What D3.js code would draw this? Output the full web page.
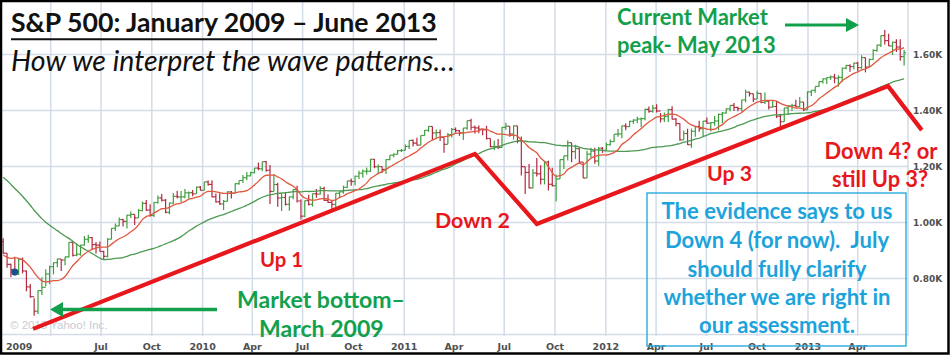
<!DOCTYPE html>
<html><head><meta charset="utf-8">
<script src="https://cdn.jsdelivr.net/npm/d3@7"></script>
<style>html,body{margin:0;padding:0;background:#fff;}svg{display:block;}</style>
</head><body>
<script>
// ---- DATA ----
// Weekly closes before the chart window (Apr 2008 – week ending Jan 2 2009), used for moving averages
const priorCloses = [1370.40,1332.83,1390.33,1397.84,1413.90,1388.28,1425.35,1375.93,1400.38,1360.68,1360.03,1317.93,1278.38,1262.90,1239.49,1260.68,1257.76,1260.31,1296.32,1298.20,1292.20,1282.83,1242.31,1251.70,1255.08,1213.27,1099.23,899.22,940.55,876.77,968.75,930.99,873.29,800.03,896.24,876.07,879.13,887.88,872.80,931.80];

// Weekly bars, weeks starting Mon Jan 5 2009 ... Mon Jun 24 2013
const weekClose = [
890.35,850.12,831.95,825.88,868.60,826.84,770.05,735.09,683.38,756.55,768.54,815.94,842.50,856.56,869.60,866.23,877.52,929.23,882.88,887.00,919.14,940.09,946.21,921.23,918.90,896.42,879.13,940.38,979.26,987.48,1010.48,1004.09,1026.13,1028.93,1016.40,1042.73,1068.30,1044.38,1025.21,1071.49,1087.68,1079.60,1036.19,1069.30,1093.48,1091.38,1091.49,1105.98,1106.41,1102.47,1126.48,1115.10,
1144.98,1136.03,1091.76,1073.87,1066.19,1075.51,1109.17,1104.49,1138.70,1149.99,1159.90,1166.59,1178.10,1194.37,1192.13,1217.28,1186.69,1110.88,1135.68,1087.69,1089.41,1064.88,1091.60,1117.51,1076.76,1022.58,1077.96,1064.88,1102.66,1101.60,1121.64,1079.25,1071.69,1064.59,1104.51,1109.55,1125.59,1148.67,1146.24,1165.15,1176.19,1183.08,1183.26,1225.85,1199.21,1199.73,1189.40,1224.71,1240.40,1243.91,1256.77,1257.64,
1271.50,1293.24,1283.35,1276.34,1310.87,1329.15,1343.01,1319.88,1321.15,1304.28,1279.20,1313.80,1332.41,1328.17,1319.68,1337.38,1363.61,1340.20,1337.77,1333.27,1331.10,1300.16,1270.98,1271.50,1268.45,1339.67,1343.80,1316.14,1345.02,1292.28,1199.38,1178.81,1123.53,1176.80,1173.97,1154.23,1216.01,1136.43,1131.42,1155.46,1224.58,1238.25,1285.09,1253.23,1263.85,1215.65,1158.67,1244.28,1255.19,1219.66,1265.33,1257.60,
1277.81,1289.09,1315.38,1316.33,1344.90,1342.64,1361.23,1365.74,1369.63,1370.87,1404.17,1397.11,1408.47,1398.08,1370.26,1378.53,1403.36,1369.10,1353.39,1295.22,1317.82,1278.04,1325.66,1342.84,1335.02,1362.16,1354.68,1356.78,1362.66,1385.97,1390.99,1405.87,1418.16,1411.13,1406.58,1437.92,1465.77,1460.15,1440.67,1460.93,1428.59,1433.19,1411.94,1414.20,1379.85,1359.88,1409.15,1416.18,1418.07,1413.58,1430.15,1402.43,1466.47,
1472.05,1485.98,1502.96,1513.17,1517.93,1519.79,1515.60,1518.20,1551.18,1560.70,1556.89,1569.19,1553.28,1588.85,1555.25,1582.24,1614.42,1633.70,1667.47,1649.60,1630.74,1643.38,1626.73,1592.43,1606.28];
const weekHigh = [
943.9,890.4,852.5,877.9,870.8,875.0,828.4,780.1,729.6,758.3,804.5,832.9,845.6,856.9,870.4,868.3,877.9,930.2,933.0,924.6,920.0,951.7,956.2,947.8,930.5,931.9,898.7,943.9,979.8,996.7,1018.0,1013.1,1027.6,1039.5,1028.5,1048.2,1074.8,1080.2,1065.4,1073.9,1096.6,1101.4,1083.9,1071.3,1105.4,1113.7,1112.4,1119.7,1110.7,1116.2,1128.0,1130.4,
1145.4,1150.4,1150.5,1103.7,1104.7,1080.0,1112.4,1112.4,1139.0,1150.0,1169.2,1180.7,1181.4,1194.7,1213.9,1217.3,1219.8,1205.1,1173.6,1141.9,1104.4,1105.7,1092.6,1119.0,1131.2,1082.6,1078.3,1099.1,1103.7,1120.0,1129.2,1127.3,1100.1,1081.6,1105.1,1110.9,1131.5,1148.9,1157.2,1167.7,1184.4,1189.0,1196.1,1227.1,1227.1,1207.4,1198.9,1225.6,1240.4,1246.7,1259.4,1262.6,
1278.2,1293.2,1296.1,1302.7,1311.0,1330.0,1344.1,1343.0,1332.3,1332.3,1304.3,1320.0,1337.9,1339.5,1330.0,1337.5,1364.6,1370.6,1346.0,1346.8,1334.6,1345.2,1300.2,1292.5,1298.6,1341.0,1356.5,1343.8,1347.0,1344.8,1307.4,1199.0,1208.5,1190.7,1230.7,1204.4,1220.4,1220.4,1195.9,1171.4,1224.6,1238.3,1292.7,1284.0,1277.6,1265.0,1215.6,1255.9,1267.1,1267.1,1269.4,1269.4,
1285.0,1296.8,1315.5,1333.5,1345.3,1354.3,1363.4,1368.9,1378.0,1374.8,1405.9,1414.0,1419.2,1422.4,1391.0,1392.8,1406.6,1415.3,1373.0,1354.6,1328.5,1334.9,1335.5,1344.0,1363.5,1362.2,1374.8,1357.0,1380.4,1389.2,1394.2,1408.1,1418.7,1426.7,1413.5,1437.9,1474.5,1467.1,1460.2,1470.1,1461.5,1464.0,1435.5,1434.3,1433.4,1388.8,1409.2,1418.7,1423.7,1438.6,1448.0,1430.1,1467.9,
1472.3,1485.2,1503.3,1514.4,1518.3,1524.7,1530.9,1525.8,1552.5,1563.6,1564.9,1570.3,1573.7,1597.4,1588.9,1585.8,1618.5,1635.0,1667.5,1687.2,1674.2,1646.5,1654.2,1654.2,1615.9];
const weekLow = [
888.3,838.8,804.5,821.7,812.9,818.4,754.3,731.1,666.8,672.9,741.0,772.2,779.8,814.5,839.8,826.8,847.1,874.7,878.9,879.6,881.5,918.4,927.4,903.2,888.9,896.1,869.3,875.3,940.2,969.6,987.5,986.0,978.5,1016.2,991.0,1016.4,1040.2,1041.2,1020.2,1019.9,1067.4,1074.6,1033.4,1029.4,1067.1,1085.6,1073.1,1086.2,1085.9,1093.5,1102.5,1114.8,
1114.8,1131.4,1090.2,1071.6,1063.0,1044.5,1075.5,1086.0,1105.4,1135.0,1141.1,1151.0,1165.2,1175.6,1186.8,1183.4,1181.6,1065.8,1110.9,1055.9,1040.8,1060.6,1042.2,1083.2,1071.6,1010.9,1018.4,1060.7,1056.9,1088.0,1100.1,1076.6,1069.4,1039.7,1040.9,1091.2,1102.7,1123.9,1130.9,1131.9,1155.7,1159.7,1171.7,1181.0,1194.1,1173.0,1176.9,1173.6,1222.7,1232.8,1243.2,1251.5,
1257.6,1262.2,1271.3,1275.1,1276.3,1311.0,1323.9,1294.3,1299.9,1291.1,1249.1,1279.2,1303.7,1321.1,1309.6,1294.7,1331.1,1329.2,1318.1,1318.5,1311.8,1296.5,1268.6,1258.1,1262.7,1267.0,1330.9,1306.5,1295.9,1282.9,1168.1,1101.5,1122.4,1121.1,1164.0,1136.1,1136.1,1114.2,1128.6,1074.8,1155.5,1191.5,1221.1,1215.4,1226.6,1209.6,1158.7,1158.7,1231.5,1209.5,1202.4,1248.6,
1258.1,1274.6,1287.2,1306.1,1300.5,1329.2,1340.8,1352.3,1354.6,1340.0,1365.0,1391.6,1391.6,1392.9,1357.4,1358.8,1358.6,1367.9,1343.4,1291.9,1295.7,1277.0,1266.7,1306.6,1324.4,1309.3,1352.8,1325.4,1345.1,1329.2,1354.6,1389.1,1397.3,1398.0,1397.0,1396.6,1429.1,1449.9,1430.5,1440.7,1425.5,1423.6,1403.3,1410.3,1373.0,1343.4,1359.9,1385.4,1398.1,1411.9,1411.4,1398.1,1402.4,
1451.6,1463.8,1484.9,1496.3,1495.0,1509.9,1497.3,1485.0,1501.5,1547.4,1538.6,1546.2,1539.5,1548.7,1536.0,1553.6,1581.3,1610.2,1626.8,1635.5,1630.7,1598.2,1608.6,1577.7,1560.3];

const yTicks = [800, 1000, 1200, 1400, 1600];
const yTickLabels = ["0.80K", "1.00K", "1.20K", "1.40K", "1.60K"];
const yGrid = [600, 800, 1000, 1200, 1400, 1600];
const xTickDates = ["2009-07-01","2009-10-01","2010-01-01","2010-04-01","2010-07-01","2010-10-01","2011-01-01","2011-04-01","2011-07-01","2011-10-01","2012-01-01","2012-04-01","2012-07-01","2012-10-01","2013-01-01","2013-04-01"];
const xTickLabels = ["Jul","Oct","2010","Apr","Jul","Oct","2011","Apr","Jul","Oct","2012","Apr","Jul","Oct","2013","Apr"];
const firstLabel = "2009";
const xGridDates = ["2009-04-01"].concat(xTickDates);

// Wave count annotation line (date, index level)
const waveDates = ["2009-02-28","2011-05-09","2011-08-29","2013-05-26","2013-07-26"];
const waveValues = [620, 1245, 995, 1487, 1330];
const eventDate = "2009-01-26", eventValue = 823;

// ---- CHART ----
const W = 950, H = 355;
const parse = d3.timeParse("%Y-%m-%d");
const svg = d3.select("body").append("svg").attr("width", W).attr("height", H);

const x = d3.scaleTime().domain([parse("2009-01-01"), parse("2013-01-01")]).range([1, 808]);
const y = d3.scaleLinear().domain([600, 1600]).range([334.5, 54.5]);
const plotRight = 908;

const weeks = d3.timeMonday.range(parse("2009-01-05"), parse("2013-06-25"));
const allClose = priorCloses.concat(weekClose);
const P = priorCloses.length;
const data = weeks.map((d, i) => ({
  date: d, close: weekClose[i], high: weekHigh[i], low: weekLow[i],
  open: allClose[P + i - 1]
}));
function ma(n) {
  return data.map((d, i) => ({date: d.date, v: d3.mean(allClose.slice(P + i - n + 1, P + i + 1))}));
}

const gridColor = "#d3dce7";
const g = svg.append("g");
const clip = svg.append("clipPath").attr("id", "plot").append("rect")
  .attr("x", 0).attr("y", 0).attr("width", plotRight).attr("height", 336);

// grid
g.selectAll(".hg").data(yGrid).join("line")
  .attr("x1", 0).attr("x2", plotRight).attr("y1", d => y(d)).attr("y2", d => y(d))
  .attr("stroke", gridColor).attr("stroke-width", 1.5);
g.selectAll(".vg").data(xGridDates).join("line")
  .attr("x1", d => x(parse(d))).attr("x2", d => x(parse(d))).attr("y1", 0).attr("y2", 336)
  .attr("stroke", gridColor).attr("stroke-width", 1.5);
g.append("line").attr("x1", plotRight).attr("x2", plotRight).attr("y1", 0).attr("y2", 336)
  .attr("stroke", "#c9d2dd").attr("stroke-width", 1.2);

// watermark
g.append("text").attr("x", 10).attr("y", 329).text("© 2013 Yahoo! Inc.")
  .attr("font-family", "'Liberation Sans', Arial, sans-serif").attr("font-size", 11.5)
  .attr("fill", "#c6ccd4");

// axis labels
const axisFont = "'DejaVu Sans', Verdana, sans-serif";
svg.selectAll(".yl").data(yTicks).join("text")
  .attr("x", 913).attr("y", d => y(d) + 3.5).text((d, i) => yTickLabels[i])
  .attr("font-family", axisFont).attr("font-weight", "bold").attr("font-size", 9)
  .attr("fill", "#505050");
svg.selectAll(".xl").data(xTickDates).join("text")
  .attr("x", d => x(parse(d))).attr("y", 350).attr("text-anchor", "middle")
  .text((d, i) => xTickLabels[i])
  .attr("font-family", axisFont).attr("font-weight", "bold").attr("font-size", 9.5)
  .attr("fill", "#505050");
svg.append("text").attr("x", 6).attr("y", 350).text(firstLabel)
  .attr("font-family", axisFont).attr("font-weight", "bold").attr("font-size", 9.5)
  .attr("fill", "#505050");

// bars
const pg = svg.append("g").attr("clip-path", "url(#plot)");
const up = "#3f9e3f", dn = "#b3283f";
const bars = pg.selectAll(".bar").data(data).join("g")
  .attr("stroke", d => d.close >= d.open ? up : dn).attr("stroke-width", 1.2);
bars.append("line").attr("x1", d => x(d.date)).attr("x2", d => x(d.date))
  .attr("y1", d => y(d.high)).attr("y2", d => y(d.low));
bars.append("line").attr("x1", d => x(d.date) - 1.9).attr("x2", d => x(d.date))
  .attr("y1", d => y(d.open)).attr("y2", d => y(d.open));
bars.append("line").attr("x1", d => x(d.date)).attr("x2", d => x(d.date) + 1.9)
  .attr("y1", d => y(d.close)).attr("y2", d => y(d.close));

// moving averages
const lineGen = d3.line().x(d => x(d.date)).y(d => y(d.v)).curve(d3.curveMonotoneX);
pg.append("path").datum(ma(40)).attr("d", lineGen).attr("fill", "none")
  .attr("stroke", "#4f9a52").attr("stroke-width", 1.3);
pg.append("path").datum(ma(10)).attr("d", lineGen).attr("fill", "none")
  .attr("stroke", "#e0583e").attr("stroke-width", 1.3);

// event dot
pg.append("circle").attr("cx", x(parse(eventDate))).attr("cy", y(eventValue)).attr("r", 3.6)
  .attr("fill", "#1d4f8f");

// ---- ANNOTATIONS ----
const red = "#e8171c", green = "#12a04c", blue = "#1ca3dc";
const ann = svg.append("g");
ann.append("path")
  .attr("d", d3.line()(waveDates.map((d, i) => [x(parse(d)), y(waveValues[i])])))
  .attr("fill", "none").attr("stroke", red).attr("stroke-width", 4.2)
  .attr("stroke-linejoin", "miter");

const txtFont = "Lato, 'Open Sans', 'Noto Sans', sans-serif";
function fitText(sel, width) {
  const fs = +sel.attr("font-size");
  const len = sel.node().getComputedTextLength();
  sel.attr("font-size", fs * width / len);
  return fs * width / len;
}
function label(txt, xx, yy, color, size, opts = {}) {
  const t = ann.append("text").attr("x", xx).attr("y", yy).text(txt)
    .attr("font-family", txtFont).attr("font-weight", opts.weight || "bold")
    .attr("font-style", opts.style || "normal").attr("font-size", size)
    .attr("fill", color).style("white-space", "pre")
    .attr("text-anchor", opts.anchor || "start");
  if (opts.width) fitText(t, opts.width);
  return t;
}

// arrows
function arrow(x1, y1, x2, y2, w, hl, hw) {
  const ang = Math.atan2(y2 - y1, x2 - x1);
  const bx = x2 - hl * Math.cos(ang), by = y2 - hl * Math.sin(ang);
  ann.append("line").attr("x1", x1).attr("y1", y1).attr("x2", bx).attr("y2", by)
    .attr("stroke", green).attr("stroke-width", w);
  ann.append("path").attr("d", d3.line()([
    [x2, y2],
    [bx + hw * Math.sin(ang), by - hw * Math.cos(ang)],
    [bx - hw * Math.sin(ang), by + hw * Math.cos(ang)]
  ]) + "Z").attr("fill", green);
}
arrow(217, 309.5, 50, 309.5, 3.4, 13, 7.5);
arrow(785, 25, 859, 25, 3, 13, 7);

// title
label("S&P 500: January 2009 – June 2013", 11, 32, "#111", 24, {width: 426});
ann.append("line").attr("x1", 11).attr("x2", 437).attr("y1", 39.3).attr("y2", 39.3)
  .attr("stroke", "#111").attr("stroke-width", 2);
label("How we interpret the wave patterns…", 11, 71, "#111", 22, {weight: "normal", style: "italic", width: 444});

// green notes
const gs = fitText(label("Current Market", 617, 24.5, green, 20), 151);
label("peak- May 2013", 617, 52.5, green, gs);
const ms = fitText(label("Market bottom–", 237, 308, green, 20), 168);
label("March 2009", 259, 337, green, ms);

// red wave labels
label("Up 1", 260, 267, red, 20, {width: 43});
label("Down 2", 435, 228, red, 20, {width: 75});
label("Up 3", 707, 181, red, 20, {width: 45});
const rs = fitText(label("Down 4? or", 881, 159, red, 20, {anchor: "middle"}), 113);
label("still Up 3?", 880, 187, red, rs, {anchor: "middle"});

// text box
ann.append("rect").attr("x", 647).attr("y", 193).attr("width", 259).attr("height", 153)
  .attr("fill", "none").attr("stroke", "#2aaae0").attr("stroke-width", 1.4);
const boxLines = ["The evidence says to us", "Down 4 (for now).  July", "should fully clarify", "whether we are right in", "our assessment."];
const boxBase = [219, 248, 276.5, 304.5, 333];
const bs = fitText(label(boxLines[0], 777, boxBase[0], blue, 20, {anchor: "middle"}), 231);
boxLines.slice(1).forEach((t, i) => label(t, 777, boxBase[i + 1], blue, bs, {anchor: "middle"}));

// frame
svg.append("rect").attr("x", 1).attr("y", 1).attr("width", W - 2.5).attr("height", H - 2.5)
  .attr("fill", "none").attr("stroke", "#000").attr("stroke-width", 2.5);
</script>
</body></html>
